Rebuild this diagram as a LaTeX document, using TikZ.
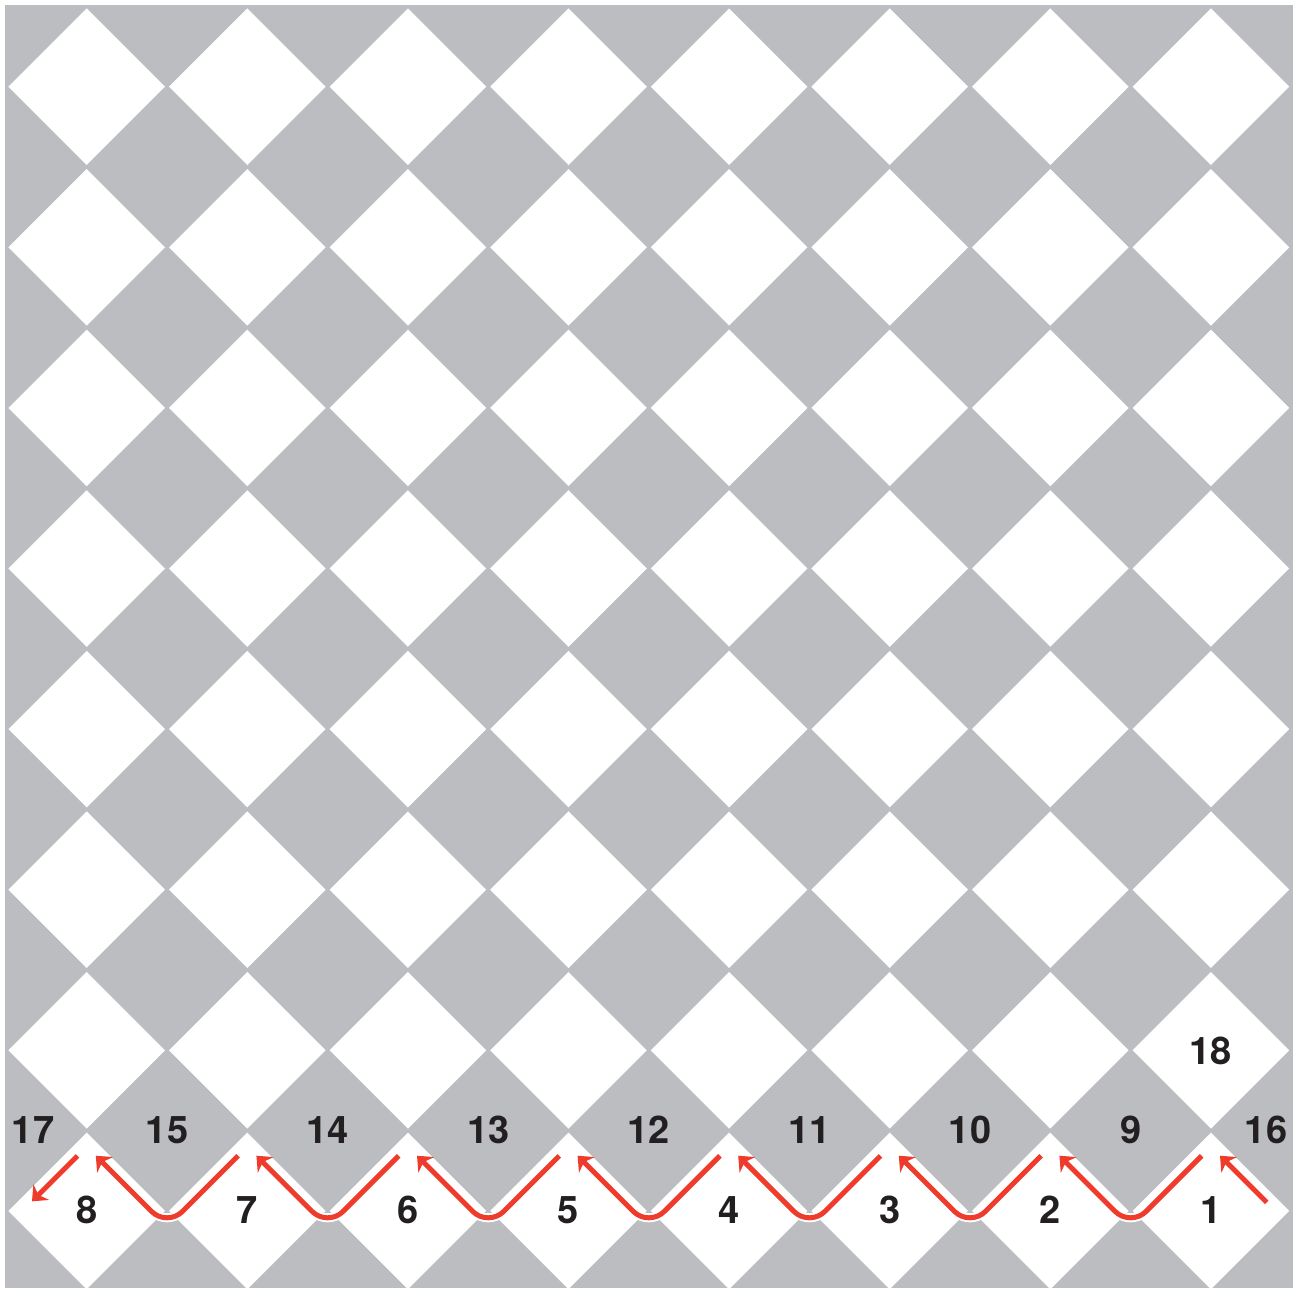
\documentclass[tikz,border=0pt]{standalone}
\usepackage{fontspec}
\setmainfont{TeX Gyre Heros}
\usetikzlibrary{arrows.meta}
\definecolor{tilegray}{RGB}{188,189,193}
\definecolor{arrowred}{RGB}{238,59,43}
\definecolor{labelink}{RGB}{35,31,32}
\begin{document}
\begin{tikzpicture}[x=1pt,y=-1pt,
  lbl/.style={font=\fontsize{38}{38}\selectfont\bfseries, text=labelink, inner sep=0pt},
  redpath/.style={draw=arrowred, line width=5pt, rounded corners=22pt, -{Stealth[length=13pt,width=22pt,inset=4pt]}},
  casing/.style={draw=white, line width=9pt, rounded corners=22pt}]
\useasboundingbox (0,0) rectangle (1298,1288);
\clip (0,0) rectangle (1298,1288);
\fill[tilegray] (5,5) rectangle (1293,1288);
\foreach \i in {0,...,7} {
  \foreach \j in {0,...,7} {
    \pgfmathsetmacro\cx{86.7+160.6*\i}
    \pgfmathsetmacro\cy{86.7+160.6*\j}
    \fill[white] (\cx,\cy-78.3) -- (\cx+78.3,\cy) -- (\cx,\cy+78.3) -- (\cx-78.3,\cy) -- cycle;
  }
}
% red path
\draw[redpath] (1266.7,1202.4) -- (1220.0,1155.7);
\foreach \k in {0,...,6} {
  \pgfmathsetmacro\xa{86.7+160.6*(\k+1)-9.2}
  \pgfmathsetmacro\xc{86.7+160.6*\k+80.3}
  \pgfmathsetmacro\xb{86.7+160.6*\k+9.1}
  \draw[casing] (\xa,1155.8) -- (\xc,1226.9) -- (\xb,1155.7);
  \draw[redpath] (\xa,1155.8) -- (\xc,1226.9) -- (\xb,1155.7);
}
\draw[redpath] (77.5,1155.8) -- (32.0,1201.3);
% labels
\node[lbl] (l8) at (86.7,1210) {8};
\node[lbl] (l7) at (247.3,1210) {7};
\node[lbl] (l6) at (407.9,1210) {6};
\node[lbl] (l5) at (568.5,1210) {5};
\node[lbl] (l4) at (729.1,1210) {4};
\node[lbl] (l3) at (889.7,1210) {3};
\node[lbl] (l2) at (1050.3,1210) {2};
\node[lbl] (l1) at (1210.9,1210) {1};
\node[lbl] (l17) at (33,1130) {17};
\node[lbl] (l15) at (167,1130) {15};
\node[lbl] (l14) at (327.6,1130) {14};
\node[lbl] (l13) at (488.2,1130) {13};
\node[lbl] (l12) at (648.8,1130) {12};
\node[lbl] (l11) at (809.4,1130) {11};
\node[lbl] (l10) at (970,1130) {10};
\node[lbl] (l9) at (1130.6,1130) {9};
\node[lbl] (l16) at (1266,1130) {16};
\node[lbl] (l18) at (1210.9,1051) {18};
\end{tikzpicture}
\end{document}
